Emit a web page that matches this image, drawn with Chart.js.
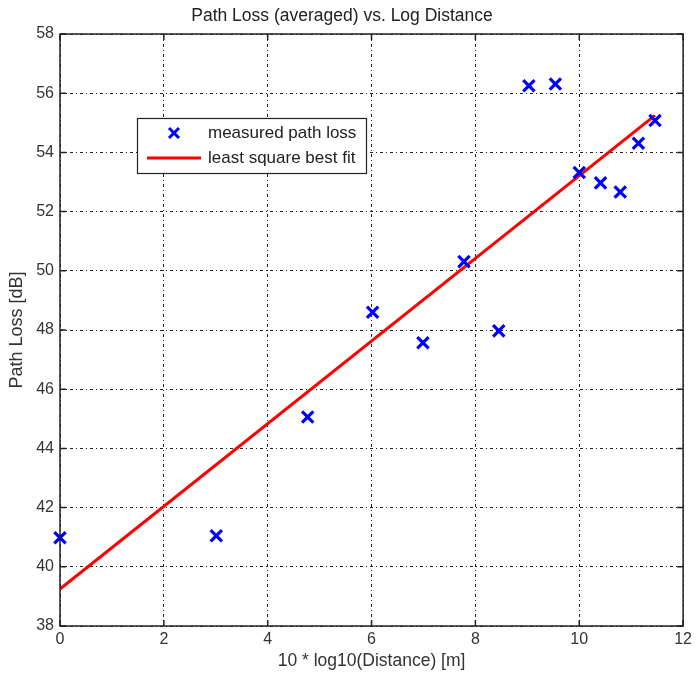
<!DOCTYPE html>
<html>
<head>
<meta charset="utf-8">
<script src="https://cdn.jsdelivr.net/npm/chart.js@4/dist/chart.umd.min.js"></script>
<style>
  html, body { margin: 0; padding: 0; background: #fff; }
  #wrap { width: 696px; height: 675px; }
</style>
</head>
<body>
<div id="wrap"><canvas id="pathloss"></canvas></div>
<script>
// measured points: 10*log10(d) vs averaged path loss
const logDist = [0, 3.01, 4.77, 6.02, 6.99, 7.78, 8.45, 9.03, 9.54, 10.0, 10.41, 10.79, 11.14, 11.46];
const pathLoss = [40.98, 41.05, 45.06, 48.6, 47.57, 50.31, 47.97, 56.25, 56.31, 53.32, 52.97, 52.66, 54.31, 55.08];

// least square fit end points
const fitX = [0, 11.46];
const fitY = [39.25, 55.25];

const xTicks = [0, 2, 4, 6, 8, 10, 12];
const yTicks = [38, 40, 42, 44, 46, 48, 50, 52, 54, 56, 58];

const FONT = 'Liberation Sans, Arial, Helvetica, sans-serif';
const BLUE = '#0000ff';
const RED = '#ff0000';
const GRID_DASH = [3, 3, 1, 3];

// box, inward tick marks and the legend inside the axes
const matlabAxes = {
  id: 'matlabAxes',
  afterDraw(chart) {
    const c = chart.ctx, a = chart.chartArea;
    const xs = chart.scales.x, ys = chart.scales.y;
    c.save();
    c.strokeStyle = '#222';
    c.lineWidth = 1.5;
    c.strokeRect(a.left, a.top, a.right - a.left, a.bottom - a.top);
    c.beginPath();
    xTicks.forEach(v => {
      const px = xs.getPixelForValue(v);
      c.moveTo(px, a.bottom); c.lineTo(px, a.bottom - 6);
      c.moveTo(px, a.top); c.lineTo(px, a.top + 6);
    });
    yTicks.forEach(v => {
      const py = ys.getPixelForValue(v);
      c.moveTo(a.left, py); c.lineTo(a.left + 6, py);
      c.moveTo(a.right, py); c.lineTo(a.right - 6, py);
    });
    c.stroke();

    // legend
    const lx = 137, ly = 118, lw = 229, lh = 55;
    c.fillStyle = '#fff';
    c.fillRect(lx, ly, lw, lh);
    c.strokeStyle = '#222';
    c.lineWidth = 1.2;
    c.strokeRect(lx + 0.5, ly + 0.5, lw, lh);

    // cross marker
    c.strokeStyle = BLUE;
    c.lineWidth = 3;
    c.beginPath();
    c.moveTo(169, 128); c.lineTo(179, 138);
    c.moveTo(179, 128); c.lineTo(169, 138);
    c.stroke();
    // red line
    c.strokeStyle = RED;
    c.lineWidth = 3;
    c.beginPath();
    c.moveTo(147, 158); c.lineTo(201, 158);
    c.stroke();

    c.fillStyle = '#222';
    c.font = '17px ' + FONT;
    c.textBaseline = 'middle';
    c.textAlign = 'left';
    c.fillText('measured path loss', 208, 133);
    c.fillText('least square best fit', 208, 158);
    c.restore();
  }
};

const ctx = document.getElementById('pathloss').getContext('2d');
new Chart(ctx, {
  type: 'scatter',
  data: {
    datasets: [{
      label: 'measured path loss',
      data: logDist.map((x, i) => ({x: x, y: pathLoss[i]})),
      pointStyle: 'crossRot',
      pointRadius: 8,
      pointBorderWidth: 3.2,
      borderColor: BLUE,
      backgroundColor: BLUE,
      clip: false,
      order: 1
    }, {
      label: 'least square best fit',
      type: 'line',
      data: fitX.map((x, i) => ({x: x, y: fitY[i]})),
      borderColor: RED,
      borderWidth: 3,
      pointRadius: 0,
      fill: false,
      order: 2
    }]
  },
  options: {
    responsive: true,
    maintainAspectRatio: false,
    animation: false,
    layout: { padding: { top: 0, right: 12, bottom: 0, left: 0 } },
    plugins: {
      legend: { display: false },
      tooltip: { enabled: false },
      title: {
        display: true,
        text: 'Path Loss (averaged) vs. Log Distance',
        color: '#222',
        font: { family: FONT, size: 17.5, weight: 'normal' },
        padding: { top: 6, bottom: 7 }
      }
    },
    scales: {
      x: {
        type: 'linear',
        min: 0, max: 12,
        afterBuildTicks: s => { s.ticks = xTicks.map(v => ({value: v})); },
        afterFit: s => { s.height = 49; },
        ticks: { color: '#333', font: { family: FONT, size: 16 }, padding: 4, maxRotation: 0 },
        grid: { color: '#222', lineWidth: 1, drawTicks: false },
        border: { display: false, dash: GRID_DASH },
        title: {
          display: true,
          text: '10 * log10(Distance) [m]',
          color: '#333',
          font: { family: FONT, size: 17.5 },
          padding: { top: 0, bottom: 3 }
        }
      },
      y: {
        type: 'linear',
        min: 38, max: 58,
        afterBuildTicks: s => { s.ticks = yTicks.map(v => ({value: v})); },
        afterFit: s => { s.width = 60; },
        ticks: { color: '#333', font: { family: FONT, size: 16 }, padding: 6 },
        grid: { color: '#222', lineWidth: 1, drawTicks: false },
        border: { display: false, dash: GRID_DASH },
        title: {
          display: true,
          text: 'Path Loss [dB]',
          color: '#333',
          font: { family: FONT, size: 18 },
          padding: { top: 6, bottom: 0 }
        }
      }
    }
  },
  plugins: [matlabAxes]
});
</script>
</body>
</html>
